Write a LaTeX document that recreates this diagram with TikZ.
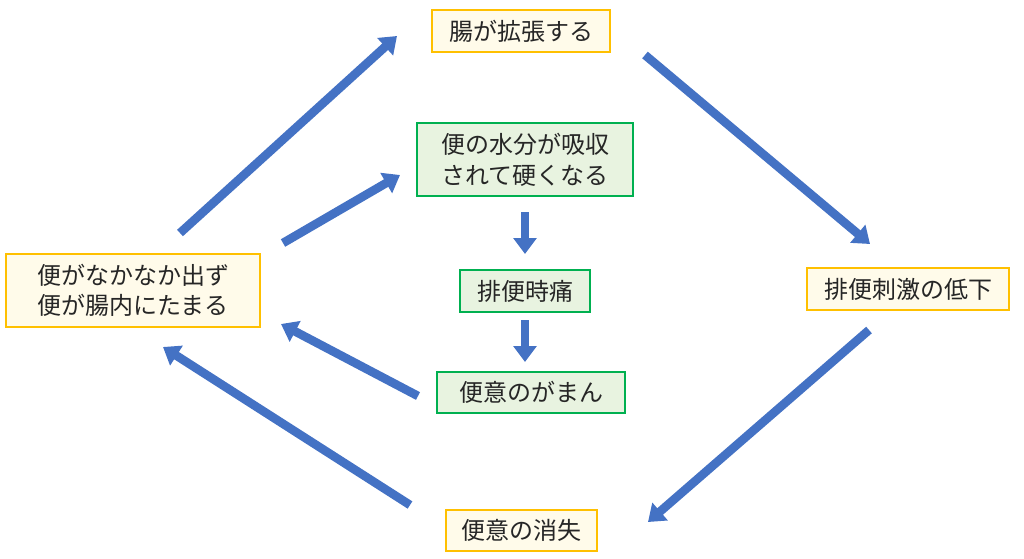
\documentclass[tikz,border=0pt]{standalone}
\usepackage{fontspec}
\newfontfamily\jp{Noto Sans CJK JP}
\usetikzlibrary{arrows.meta}
\definecolor{yb}{HTML}{FFC000}
\definecolor{yf}{HTML}{FFFBEA}
\definecolor{gb}{HTML}{00B050}
\definecolor{gf}{HTML}{E8F3E0}
\definecolor{ab}{HTML}{4472C4}
\begin{document}
\begin{tikzpicture}[x=0.75pt,y=-0.75pt,
 yel/.style={draw=yb,fill=yf,line width=1.5pt},
 grn/.style={draw=gb,fill=gf,line width=1.5pt},
 lbl/.style={font=\jp\fontsize{18}{23}\selectfont,align=center,text=black!85},
 arr/.style={draw=ab,line width=6.5pt,-{Triangle[width=17pt,length=12pt]}}]
\useasboundingbox (0,0) rectangle (1024,558);
\draw[yel] (432,10) rectangle (610,52); \node[lbl] (a) at (521,31) {腸が拡張する};
\draw[grn] (417,123) rectangle (633,196); \node[lbl] (b) at (525,159.5) {便の水分が吸収\\されて硬くなる};
\draw[grn] (460,270) rectangle (590,312); \node[lbl] (c) at (525,291) {排便時痛};
\draw[grn] (437,372) rectangle (625,413); \node[lbl] (d) at (531,392.5) {便意のがまん};
\draw[yel] (6,254) rectangle (260,327); \node[lbl] (e) at (133,290.5) {便がなかなか出ず\\便が腸内にたまる};
\draw[yel] (807,268) rectangle (1009,310); \node[lbl] (f) at (908,289) {排便刺激の低下};
\draw[yel] (446,510) rectangle (597,551); \node[lbl] (g) at (521.5,530.5) {便意の消失};
\coordinate (p1) at (180,233); \coordinate (q1) at (397,36);
\coordinate (p2) at (283,243); \coordinate (q2) at (400,175);
\coordinate (p3) at (645,55); \coordinate (q3) at (870,244);
\coordinate (p4) at (869,330); \coordinate (q4) at (648,522);
\coordinate (p5) at (418,396); \coordinate (q5) at (281,324);
\coordinate (p6) at (410,505); \coordinate (q6) at (163,347);
\coordinate (p7) at (525,212); \coordinate (q7) at (525,254);
\coordinate (p8) at (525,320); \coordinate (q8) at (525,362);
\foreach \i in {1,...,8} \draw[arr] (p\i) -- (q\i);
\end{tikzpicture}
\end{document}
